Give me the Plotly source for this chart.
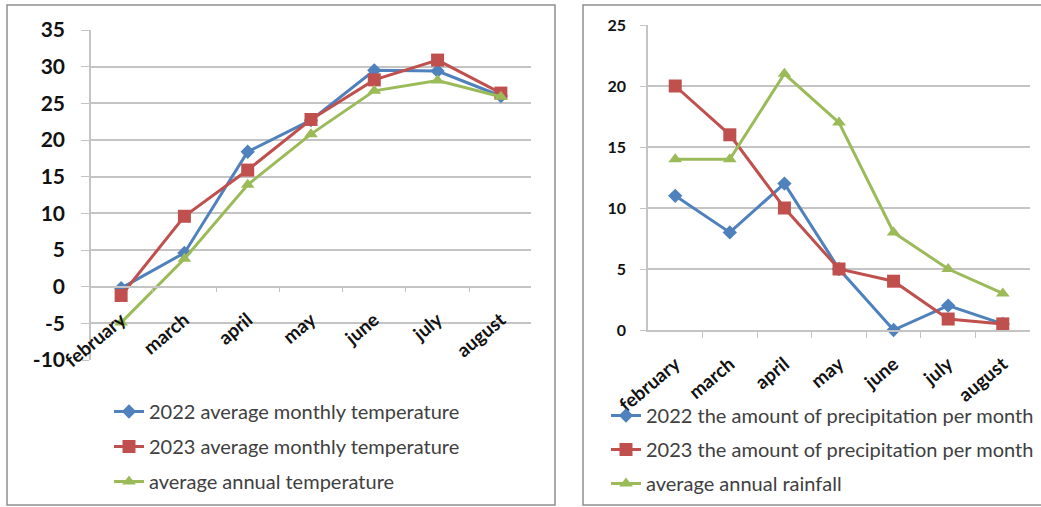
import plotly.graph_objects as go

W, H = 1041, 507

months = ["february", "march", "april", "may", "june", "july", "august"]

# Temperature (°C)
temp_2022 = [-0.2, 4.6, 18.4, 22.7, 29.5, 29.4, 26.0]
temp_2023 = [-1.2, 9.6, 15.9, 22.8, 28.2, 30.9, 26.4]
temp_avg = [-4.9, 3.8, 13.9, 20.8, 26.7, 28.1, 25.9]
temp_ticks = [-10, -5, 0, 5, 10, 15, 20, 25, 30, 35]
temp_tick_labels = ["-10", "-5", "0", "5", "10", "15", "20", "25", "30", "35"]

# Precipitation (mm)
prec_2022 = [11, 8, 12, 5, 0, 2, 0.5]
prec_2023 = [20, 16, 10, 5, 4, 0.9, 0.5]
prec_avg = [14, 14, 21, 17, 8, 5, 3]

temp_names = ["2022 average monthly temperature",
              "2023 average monthly temperature",
              "average annual temperature"]
prec_names = ["2022 the amount of precipitation per month",
              "2023 the amount of precipitation per month",
              "average annual rainfall"]

BLUE, RED, GREEN = "#4F81BD", "#C0504D", "#9BBB59"
GRID = "#C4C4C4"
FRAME = "#8E8E8E"
FONT = "Lato"


def fx(px):
    return px / W


def fy(py):
    return 1 - py / H


styles = [
    (BLUE, "diamond", 11),
    (RED, "square", 13),
    (GREEN, "triangle-up", 12),
]

fig = go.Figure()

for i, (vals, name) in enumerate(zip([temp_2022, temp_2023, temp_avg], temp_names)):
    c, sym, sz = styles[i]
    fig.add_trace(go.Scatter(
        x=months, y=vals, name=name, mode="lines+markers",
        line=dict(color=c, width=3),
        marker=dict(symbol=sym, size=sz, color=c),
        xaxis="x", yaxis="y", legend="legend",
        legendgroup=f"t{i}", cliponaxis=False,
    ))

for i, (vals, name) in enumerate(zip([prec_2022, prec_2023, prec_avg], prec_names)):
    c, sym, sz = styles[i]
    fig.add_trace(go.Scatter(
        x=months, y=vals, name=name, mode="lines+markers",
        line=dict(color=c, width=3),
        marker=dict(symbol=sym, size=sz, color=c),
        xaxis="x2", yaxis="y2", legend="legend2",
        legendgroup=f"p{i}", cliponaxis=False,
    ))

# Left panel: temperature, category axis crossing at 0
t_lo, t_hi = -10, 35
y1_dom = [fy(360), fy(30)]
zero_pos = y1_dom[0] + (0 - t_lo) / (t_hi - t_lo) * (y1_dom[1] - y1_dom[0])

# Right panel: precipitation
y2_dom = [fy(330), fy(25)]

tick_font_x = dict(family=FONT, size=19, color="#111111", weight="bold")
legend_font = dict(family=FONT, size=20, color="#404040")

fig.update_layout(
    width=W, height=H,
    margin=dict(l=0, r=0, t=0, b=0, autoexpand=False),
    paper_bgcolor="white", plot_bgcolor="white",
    showlegend=True,
    xaxis=dict(
        domain=[fx(91), fx(531)], anchor="free", position=zero_pos,
        type="category", categoryorder="array", categoryarray=months,
        showline=True, linecolor=GRID, linewidth=1.5,
        ticks="outside", ticklen=5, tickcolor=GRID, tickson="boundaries",
        showgrid=False, tickangle=-40, tickfont=tick_font_x,
        ticklabelstandoff=14, fixedrange=True,
    ),
    yaxis=dict(
        domain=y1_dom, anchor="x", range=[t_lo, t_hi],
        tickmode="array", tickvals=temp_ticks, ticktext=temp_tick_labels,
        showline=True, linecolor=GRID, linewidth=1.5,
        showgrid=True, gridcolor=GRID, gridwidth=1.5, zeroline=False,
        ticks="outside", ticklen=8, tickcolor=GRID,
        tickfont=dict(family=FONT, size=21, color="#111111", weight="bold"),
        ticklabelstandoff=12, fixedrange=True,
    ),
    xaxis2=dict(
        domain=[fx(648), fx(1030)], anchor="y2",
        type="category", categoryorder="array", categoryarray=months,
        showline=True, linecolor=GRID, linewidth=1.5,
        ticks="outside", ticklen=6, tickcolor=GRID, tickson="boundaries",
        showgrid=False, tickangle=-40, tickfont=tick_font_x,
        ticklabelstandoff=14, fixedrange=True,
    ),
    yaxis2=dict(
        domain=y2_dom, anchor="x2", range=[0, 25], dtick=5,
        showline=True, linecolor=GRID, linewidth=1.5,
        showgrid=True, gridcolor=GRID, gridwidth=1.5, zeroline=False,
        ticks="outside", ticklen=6, tickcolor=GRID,
        tickfont=dict(family=FONT, size=16, color="#111111", weight="bold"),
        ticklabelstandoff=11, fixedrange=True,
    ),
    legend=dict(
        x=fx(109), y=fy(392), xanchor="left", yanchor="top",
        bgcolor="rgba(0,0,0,0)", tracegroupgap=6,
        font=legend_font,
    ),
    legend2=dict(
        x=fx(606), y=fy(396), xanchor="left", yanchor="top",
        bgcolor="rgba(0,0,0,0)", tracegroupgap=5,
        font=legend_font,
    ),
    shapes=[
        dict(type="rect", xref="paper", yref="paper",
             x0=fx(7), x1=fx(555), y0=fy(505), y1=fy(5),
             line=dict(color=FRAME, width=1.5), layer="below"),
        dict(type="rect", xref="paper", yref="paper",
             x0=fx(583), x1=fx(1046), y0=fy(505), y1=fy(5),
             line=dict(color=FRAME, width=1.5), layer="below"),
    ],
)

fig.write_html("out.html")
